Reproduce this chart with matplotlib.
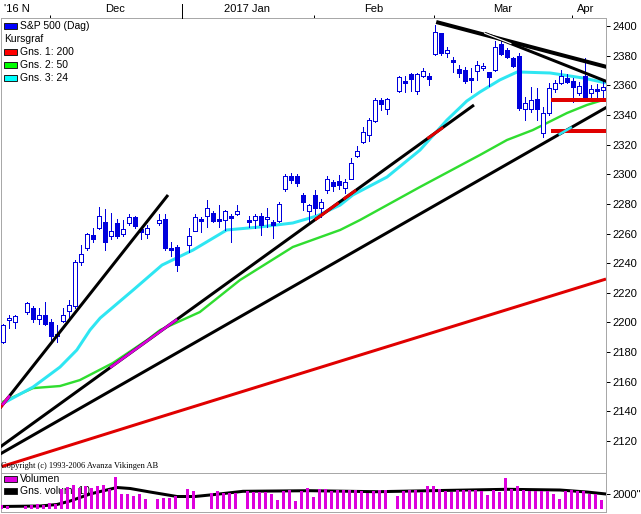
import numpy as np
import pandas as pd
import matplotlib
matplotlib.use("Agg")
import matplotlib.pyplot as plt
from matplotlib.patches import Rectangle
import matplotlib.transforms as mtransforms

nan = np.nan
plt.rcParams['font.family'] = ['Liberation Sans', 'DejaVu Sans']

# ---------------- data ----------------
# one slot per weekday (market holidays are empty slots)
dates = pd.bdate_range("2016-11-21", "2017-04-10")

opens = [2187, 2201.5, 2200, nan, 2207, 2210, 2202, 2205, 2200, 2191,
         2201, 2208, 2211, 2241, 2250, 2259, 2264, 2268, 2258, 2267,
         2260, 2267, 2271, 2263, 2260, nan, 2267, 2270, 2250, 2251,
         nan, 2252, 2262, 2269.5, 2272, 2274, 2269.3, 2269, 2272, 2273.5,
         nan, 2269, 2269, 2272, 2270, 2268, 2268.5, 2290, 2299, 2299,
         2286, 2275, 2286, 2277, 2289.5, 2294.7, 2295.5, 2290.5, 2297, 2312.3,
         2322, 2326.5, 2336, 2350, 2344, nan, 2356, 2362.5, 2367.8, 2356.3,
         2366.3, 2366.3, 2381, 2395, 2381.6, 2376.3, 2370.8, 2370.3, 2364.6, 2369.9,
         2371.9, 2368.8, 2370.3, 2387.9, 2383.8, 2378.2, 2379.8, 2343.8, 2343.8, 2350.5,
         2327.6, 2341.1, 2357.3, 2361.8, 2364.7, 2363.1, 2355, 2366.3, 2354.6, 2357.2,
         2356.8]
highs = [2199, 2205, 2205, nan, 2214, 2211, 2210, 2214, 2202, 2198,
         2210, 2215, 2242, 2252, 2260.5, 2264, 2278, 2276.5, 2274, 2270,
         2269, 2273, 2272, 2264, 2265.5, nan, 2273.5, 2273, 2254, 2252,
         nan, 2264, 2273, 2271.3, 2282.6, 2275, 2279, 2276, 2273, 2279,
         nan, 2272, 2273, 2274, 2277, 2269, 2281, 2300, 2301, 2300,
         2287, 2280, 2289.5, 2283, 2298.5, 2296, 2299.4, 2296.5, 2311, 2319,
         2331.6, 2337.7, 2351.2, 2351.2, 2351.2, nan, 2366, 2366.3, 2368.5, 2368,
         2372, 2368, 2401, 2395, 2386, 2379.3, 2373.7, 2372.6, 2371.5, 2376.4,
         2375.3, 2369.2, 2390, 2390, 2385, 2379.3, 2381.6, 2352.3, 2358.6, 2358,
         2345.2, 2361.8, 2363.6, 2370.3, 2367.6, 2364.7, 2362.4, 2378.2, 2360.2, 2360.9,
         2363.6]
lows = [2186, 2196, 2196, nan, 2206, 2200, 2199, 2198, 2188, 2187,
        2200, 2203, 2210, 2239, 2249, 2254, 2263, 2249, 2256, 2257,
        2258, 2266, 2264, 2256, 2257, nan, 2266, 2249, 2245, 2234.5,
        nan, 2247.5, 2261.5, 2261, 2264.6, 2268, 2264.5, 2262.5, 2254.5, 2272.5,
        nan, 2264.5, 2264, 2259, 2264.5, 2257, 2268, 2289, 2294, 2292,
        2276, 2268, 2273.5, 2271, 2287, 2289, 2290, 2287, 2296.6, 2311.7,
        2321.4, 2322.6, 2335, 2343.3, 2340.4, nan, 2355.5, 2355.7, 2356.1, 2354,
        2365.8, 2360, 2380.4, 2380.2, 2379.3, 2369.2, 2365.8, 2361.3, 2355.7, 2363.4,
        2370.3, 2359.5, 2369.9, 2380.4, 2378.2, 2372.6, 2343.3, 2336.6, 2342.2, 2336.6,
        2325.4, 2340, 2355.7, 2360.9, 2361.3, 2349, 2353.4, 2351.2, 2350, 2350,
        2352.3]
closes = [2198, 2203, 2204.5, nan, 2213, 2202, 2205, 2199, 2191, 2192,
          2205, 2212, 2241, 2246, 2259.5, 2256, 2272, 2254, 2262, 2258,
          2263, 2271, 2265, 2261, 2264, nan, 2269, 2250, 2249, 2239,
          nan, 2258, 2271, 2269, 2277, 2268.5, 2269, 2275, 2270.5, 2275,
          nan, 2268, 2272, 2266, 2271, 2266, 2280, 2299, 2296, 2294,
          2281, 2279, 2277, 2281, 2297, 2292.3, 2293, 2294.5, 2307.9, 2316,
          2328.3, 2336.6, 2350, 2347.2, 2351, nan, 2365.4, 2362, 2364, 2367.6,
          2369.9, 2364, 2396, 2382, 2383.8, 2375.9, 2368.5, 2362.9, 2364.2, 2373.5,
          2373.2, 2365.4, 2385.6, 2381.1, 2378.9, 2373, 2344.5, 2348.3, 2350, 2343.8,
          2341.5, 2358, 2361.3, 2366.3, 2362.4, 2358.6, 2359.8, 2352.3, 2357.3, 2356.8,
          2358.6]
volume = [434, 355, nan, nan, 355, 434, 658, 487, 790, 566,
          2540, 2856, 3119, 2764, 2987, 2671, 2987, 3119, 2540, 4172,
          1974, 1882, 1671, 1882, 1224, nan, 1224, 1355, 1355, 1671,
          nan, 2540, 2329, nan, nan, 2106, 2277, 2106, 2106, 2106,
          nan, 2329, 2237, 2237, 2237, 1974, 1092, 2329, 2408, 1013,
          2329, 2764, 1540, 2540, 2593, 2277, 2408, 2408, 2500, 2408,
          2277, 2066, 2277, 2408, 2500, nan, 1711, 2277, 2500, 2500,
          2145, 2935, 3027, 2593, 2277, 2145, 2408, 2408, 2500, 2408,
          2277, 1842, 2500, 2145, 4040, 2593, 3027, 2500, 2277, 2277,
          2277, 2277, 1974, 1277, 2277, 2500, 2277, 2277, 1974, 1974,
          1184]

# moving averages read at slot positions
ma24_slot = [-0.5, 5, 9.5, 12.3, 14.5, 16.2, 21.7, 26.5, 31.7, 37.3, 42.8, 48.3,
             52.3, 56.2, 58.3, 64, 69.5, 74, 77.3, 79.5, 82.8, 85.7, 91.2, 96.7, 100.5]
ma24_val = [2144.3, 2156.4, 2169.9, 2181.4, 2194.9, 2203.0, 2221.9, 2238.7, 2248.9,
            2262.4, 2264.4, 2267.1, 2271.8, 2279.2, 2286.0, 2298.1, 2316.3, 2336.6,
            2349.4, 2355.5, 2363.6, 2369.0, 2368.3, 2364.9, 2361.6]
ma50_slot = [-0.5, 5, 9.5, 12.8, 18.3, 24, 26.2, 32.8, 39.5, 48.3, 56.2, 59.5,
             69.5, 79.5, 84, 88.3, 94, 97.3, 100.5]
ma50_val = [2145.6, 2155.7, 2157.1, 2161.1, 2172.6, 2188.1, 2194.9, 2207.0, 2228.6,
            2250.9, 2262.4, 2269.1, 2291.4, 2313.0, 2323.1, 2329.8, 2341.3, 2346.7, 2350.7]
ma200_slot = [-0.5, 26.2, 60, 100.5]
ma200_val = [2102.4, 2136.2, 2178.6, 2229.3]
avgvol_slot = [-0.5, 6.2, 9, 11.2, 14.5, 19, 21.2, 24.5, 29, 32, 35.3, 40, 51.2,
               62.3, 71.2, 84, 92.8, 97.3, 100.5]
avgvol_val = [290, 355, 553, 1013, 1934, 2790, 2658, 2198, 1605, 1605, 1869, 2290,
              2369, 2237, 2369, 2553, 2461, 2198, 1934]

# drawn trend lines: (slot0, price0, slot1, price1)
trend_lines = [(-0.5, 2142.3, 27.5, 2286.0),
               (-0.5, 2115.9, 78.5, 2346.7),
               (-0.5, 2111.2, 100.7, 2345.4)]
resist_lines = [(72.2, 2402.7, 100.7, 2372.3),
                (80.3, 2395.1, 100.7, 2362.4)]
support_levels = [2350.0, 2329.2]
support_span = (91.3, 100.7)

month_labels = ["'16 N", "Dec", "2017 Jan", "Feb", "Mar", "Apr"]
price_ticks = list(range(2120, 2401, 20))
vol_tick = 2000

# ---------------- styling ----------------
W, H = 641, 514
BLUE = '#0000DD'
CYAN = '#2EE6F2'
GREEN = '#30DD30'
RED = '#E00000'
MAG = '#DD00DD'
GRAY = '#A8A8A8'
PX = 0.72  # one pixel in points

fig = plt.figure(figsize=(W / 100, H / 100), dpi=100)
fig.patch.set_facecolor('white')

def fx(x):
    return x / W

def fy(y):
    return 1 - y / H

ax = fig.add_axes([fx(1), fy(472), (606 - 1) / W, (472 - 18) / H])
ax.set_xlim(-1 / 3, 100.5)
ax.set_ylim(2099.1, 2405.4)

n = len(dates)
slots = np.arange(n)
O = np.array(opens, float); Hh = np.array(highs, float)
L = np.array(lows, float); C = np.array(closes, float)

# moving averages
ax.plot(ma200_slot, ma200_val, color=RED, lw=3 * PX, zorder=2, solid_capstyle='butt')
ax.plot(ma50_slot, ma50_val, color=GREEN, lw=2.4 * PX, zorder=2, solid_capstyle='butt')
ax.plot(ma24_slot, ma24_val, color=CYAN, lw=3 * PX, zorder=2, solid_capstyle='butt')

# candles
bw = 2 / 3
for k in slots:
    if np.isnan(O[k]):
        continue
    ax.vlines(k, L[k], Hh[k], color=BLUE, lw=PX, zorder=3, antialiased=False)
    lo, hi = min(O[k], C[k]), max(O[k], C[k])
    if hi - lo < 0.7:
        ax.hlines((O[k] + C[k]) / 2, k - bw / 2, k + bw / 2, color=BLUE, lw=1.4 * PX,
                  zorder=3, antialiased=False)
    else:
        fc = 'white' if C[k] > O[k] else BLUE
        ax.add_patch(Rectangle((k - bw / 2, lo), bw, hi - lo, facecolor=fc,
                               edgecolor=BLUE, lw=PX, zorder=3, antialiased=False))

# trend lines with XOR-like tint where they overlap the averages
def seg_overlay(x0, y0, x1, y1, ma_s, ma_v, color, lw, thr=2.2):
    t = np.linspace(x0, x1, 600)
    yl = y0 + (y1 - y0) * (t - x0) / (x1 - x0)
    ym = np.interp(t, ma_s, ma_v)
    m = np.abs(yl - ym) < thr
    yy = np.where(m, yl, np.nan)
    ax.plot(t, yy, color=color, lw=lw, zorder=4.5, solid_capstyle='butt')

for (x0, y0, x1, y1) in trend_lines:
    ax.plot([x0, x1], [y0, y1], color='black', lw=3 * PX, zorder=4, solid_capstyle='butt')
    seg_overlay(x0, y0, x1, y1, ma24_slot, ma24_val, RED, 3 * PX)
    seg_overlay(x0, y0, x1, y1, ma50_slot, ma50_val, MAG, 2.6 * PX)

(a0, b0, a1, b1) = resist_lines[0]
ax.plot([a0, a1], [b0, b1], color='black', lw=4 * PX, zorder=4, solid_capstyle='butt')
(c0, d0, c1, d1) = resist_lines[1]
ax.plot([c0, c1], [d0, d1], color='black', lw=3 * PX, zorder=4, solid_capstyle='butt')
t = np.linspace(c0, c1, 400)
l4 = b0 + (b1 - b0) * (t - a0) / (a1 - a0)
l5 = d0 + (d1 - d0) * (t - c0) / (c1 - c0)
ax.plot(t, np.where(np.abs(l4 - l5) < 1.3, l5, np.nan), color='white', lw=1.2 * PX, zorder=4.6)

for lev in support_levels:
    ax.plot(list(support_span), [lev, lev], color=RED, lw=4 * PX, zorder=5,
            solid_capstyle='butt')
# crossing of the lowest trend line with the lower support line
(x0, y0, x1, y1) = trend_lines[2]
t = np.linspace(support_span[0], support_span[1], 300)
yl = y0 + (y1 - y0) * (t - x0) / (x1 - x0)
ax.plot(t, np.where(np.abs(yl - support_levels[1]) < 2.2, yl, np.nan), color=CYAN,
        lw=2.5 * PX, zorder=5.5)

# axes cosmetics
for s in ['left', 'top', 'right']:
    ax.spines[s].set_color(GRAY)
    ax.spines[s].set_linewidth(PX)
ax.spines['bottom'].set_visible(False)
ax.set_yticks(price_ticks)
ax.yaxis.set_ticks_position('right')
ax.tick_params(axis='y', direction='out', length=3.2, width=PX, color='black',
               pad=1.5, labelsize=8, right=True, left=False, labelright=True, labelleft=False)

# month ticks on top
month_first = []
for i, d in enumerate(dates):
    if i > 0 and d.month != dates[i - 1].month:
        month_first.append(i)
tick_pos = [i - 0.25 for i in month_first]
ax.set_xticks(tick_pos)
ax.set_xticklabels([])
ax.xaxis.set_ticks_position('top')
ax.tick_params(axis='x', direction='out', length=3 * PX, width=PX, color='black')
blend = mtransforms.blended_transform_factory(ax.transData, ax.transAxes)
axh = 472 - 18
for i, p in zip(month_first, tick_pos):
    if dates[i].month == 1:
        ax.plot([p, p], [1, 1 + 14 / axh], transform=blend, color='black', lw=PX,
                clip_on=False, zorder=6)
edges = [ax.get_xlim()[0]] + tick_pos + [ax.get_xlim()[1]]
ytxt = 1 + 9.5 / axh
for j, lab in enumerate(month_labels):
    if j == 0:
        ax.text(edges[0] + 0.5, ytxt, lab, transform=blend, ha='left', va='center',
                fontsize=8)
    else:
        cx = (edges[j] + edges[j + 1]) / 2
        if j == len(month_labels) - 1:
            cx -= 0.5
        ax.text(cx, ytxt, lab, transform=blend, ha='center', va='center', fontsize=8)

# legend (main)
def legend_item(axis, y, color, label, z=10):
    axis.add_patch(Rectangle((fx(4), fy(y + 3.2)), 13 / W, 6.5 / H, transform=fig.transFigure,
                             facecolor=color, edgecolor='#202020', lw=PX, zorder=z,
                             clip_on=False))
    axis.text(fx(20), fy(y), label, transform=fig.transFigure, ha='left', va='center',
              fontsize=7.5, zorder=z)

legend_item(ax, 26, '#0000FF', 'S&P 500 (Dag)')
ax.text(fx(4), fy(39), 'Kursgraf', transform=fig.transFigure, ha='left', va='center',
        fontsize=7.5, zorder=10)
legend_item(ax, 52, '#FF0000', 'Gns. 1: 200')
legend_item(ax, 65, '#00FF00', 'Gns. 2: 50')
legend_item(ax, 78, '#00FFFF', 'Gns. 3: 24')
ax.text(fx(1), fy(465.5), 'Copyright (c) 1993-2006 Avanza Vikingen AB',
        transform=fig.transFigure, ha='left', va='center', fontsize=6,
        family='Liberation Serif', zorder=10)

# ---------------- volume panel ----------------
av = fig.add_axes([fx(1), fy(512), (606 - 1) / W, (512 - 473) / H])
av.set_xlim(ax.get_xlim())
av.set_ylim(-434, 4698)
vol = np.array(volume, float)
av.bar(slots - 0.2, vol, width=0.5, color=MAG, zorder=3, antialiased=False)
av.plot(avgvol_slot, avgvol_val, color='black', lw=3 * PX, zorder=2.5)
for s in ['left', 'top', 'right', 'bottom']:
    av.spines[s].set_color(GRAY)
    av.spines[s].set_linewidth(PX)
av.set_xticks([])
av.set_yticks([vol_tick])
av.set_yticklabels(['%d"' % vol_tick])
av.yaxis.set_ticks_position('right')
av.tick_params(axis='y', direction='out', length=3.2, width=PX, color='black', pad=1.5,
               labelsize=8, right=True, left=False, labelright=True, labelleft=False)
legend_item(av, 479, MAG, 'Volumen', z=1)
legend_item(av, 491, 'black', 'Gns. volum: 10', z=1)

fig.savefig('out.png', dpi=100)
